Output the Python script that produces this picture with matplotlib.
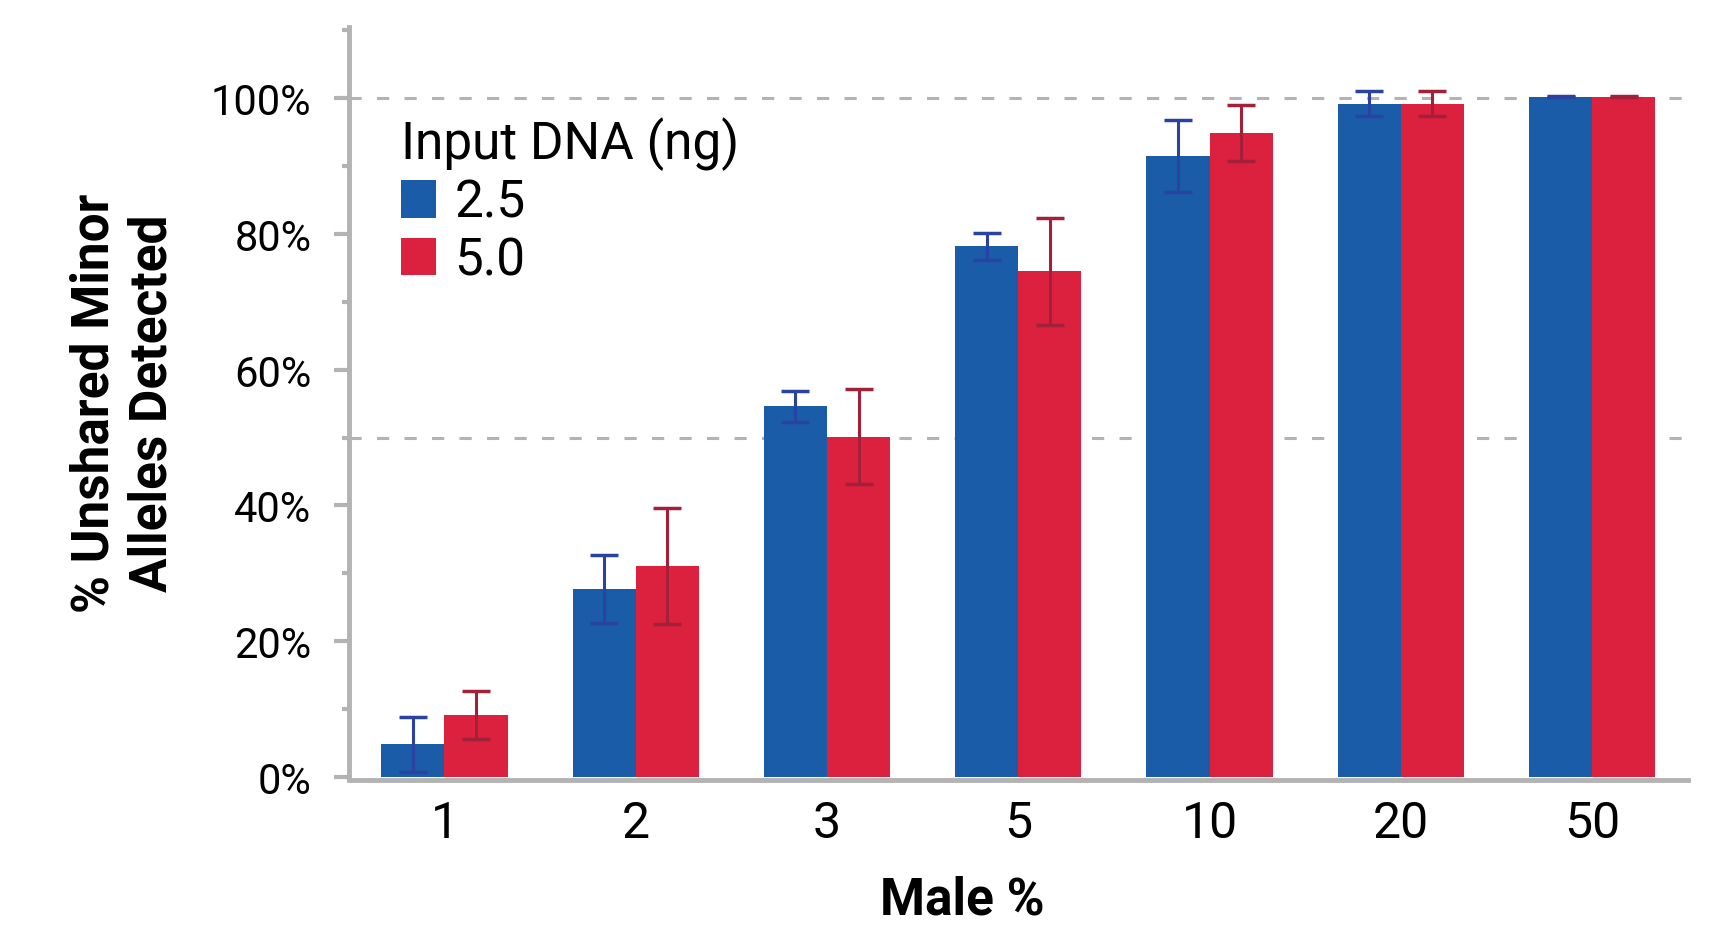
import matplotlib
matplotlib.use('Agg')
import numpy as np
import matplotlib.pyplot as plt
from matplotlib.ticker import MultipleLocator, FuncFormatter

# values
male_pct = ['1', '2', '3', '5', '10', '20', '50']
dna_25 = [4.8, 27.7, 54.6, 78.2, 91.5, 99.2, 100.2]
dna_25_err = [4.0, 5.0, 2.3, 2.0, 5.3, 1.8, 0.1]
dna_50 = [9.1, 31.1, 50.1, 74.5, 94.9, 99.2, 100.2]
dna_50_err = [3.5, 8.5, 7.0, 7.9, 4.1, 1.8, 0.1]
series_labels = ['2.5', '5.0']
legend_title = 'Input DNA (ng)'

blue = '#1a5ca8'
red = '#dc213e'
blue_err = '#2a43a0'
red_err = '#a3203a'
axis_grey = '#b3b3b3'

plt.rcParams['font.family'] = ['Roboto', 'DejaVu Sans']

fig = plt.figure(figsize=(17.1, 9.29), dpi=100)
ax = fig.add_axes([0.204, 0.1625, 0.783, 0.8075])

x = np.arange(len(male_pct))
w = 0.33
ax.bar(x - w / 2, dna_25, w, color=blue, label=series_labels[0], zorder=2)
ax.bar(x + w / 2, dna_50, w, color=red, label=series_labels[1], zorder=2)
ax.errorbar(x - w / 2, dna_25, yerr=dna_25_err, fmt='none', ecolor=blue_err,
            elinewidth=2.2, capsize=10, capthick=2.5, zorder=3)
ax.errorbar(x + w / 2, dna_50, yerr=dna_50_err, fmt='none', ecolor=red_err,
            elinewidth=2.2, capsize=10, capthick=2.5, zorder=3)

for yv in [50, 100]:
    ax.axhline(yv, color='#b3b3b3', lw=2.2, linestyle=(0, (4, 5)), zorder=1)

ax.set_xlim(-0.5, 6.5)
ax.set_ylim(0, 110.5)
ax.yaxis.set_major_locator(MultipleLocator(20))
ax.yaxis.set_minor_locator(MultipleLocator(10))
ax.yaxis.set_major_formatter(FuncFormatter(lambda v, p: f'{int(v)}%' if v <= 100 else ''))
ax.set_xticks(x)
ax.set_xticklabels(male_pct)

for s in ['top', 'right']:
    ax.spines[s].set_visible(False)
for s in ['left', 'bottom']:
    ax.spines[s].set_color(axis_grey)
    ax.spines[s].set_linewidth(3.5)
ax.spines['bottom'].set_position(('data', -0.4))

ax.tick_params(axis='y', which='major', length=11, width=3, color=axis_grey,
               labelsize=30, pad=16)
ax.tick_params(axis='y', which='minor', length=5, width=3, color=axis_grey)
ax.tick_params(axis='x', length=0, labelsize=36, pad=14)

ax.set_ylabel('% Unshared Minor\nAlleles Detected', fontsize=37, fontweight='bold',
              linespacing=1.2)
ax.yaxis.set_label_coords(-0.128, 0.5)
ax.set_xlabel('Male %', fontsize=37, fontweight='bold')
ax.xaxis.set_label_coords(0.458, -0.13)
ax.xaxis.label.set_va('top')

leg = ax.legend(title=legend_title, loc='upper left', bbox_to_anchor=(0.02, 0.915),
                frameon=False, fontsize=37, title_fontsize=37, handlelength=0.68,
                handleheight=0.75, handletextpad=0.35, labelspacing=0.15,
                borderpad=0, alignment='left')

fig.savefig('out.png', dpi=100)
